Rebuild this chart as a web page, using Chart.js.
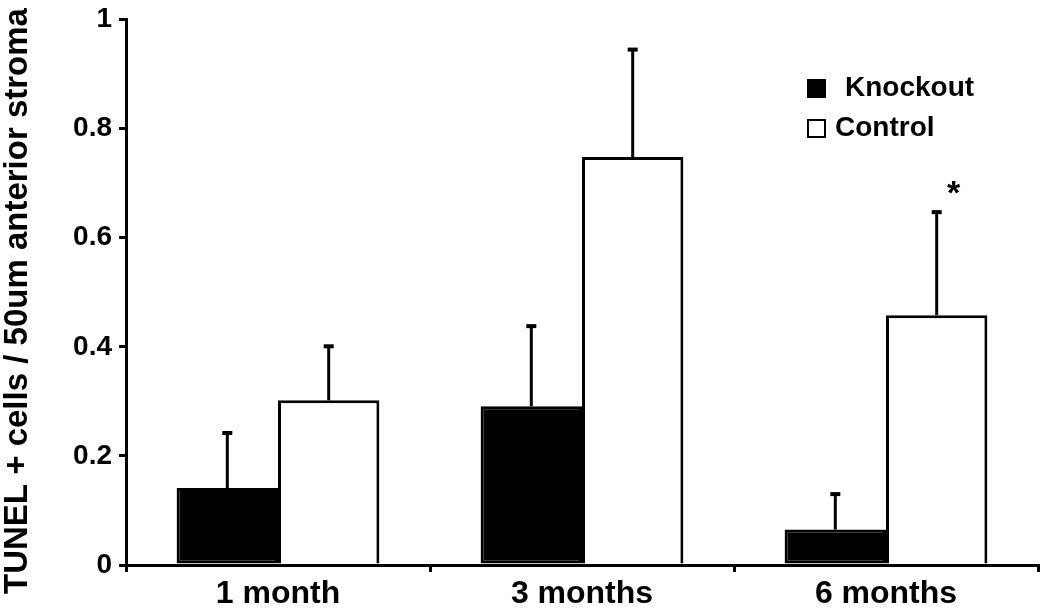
<!DOCTYPE html>
<html>
<head>
<meta charset="utf-8">
<script src="https://cdn.jsdelivr.net/npm/chart.js@4"></script>
<style>
  html, body { margin: 0; padding: 0; background: #fff; }
  #wrap { width: 1050px; height: 614px; }
</style>
</head>
<body>
<div id="wrap"><canvas id="bar"></canvas></div>
<script>
const categories = ["1 month", "3 months", "6 months"];
const knockout = [0.141, 0.291, 0.065];
const knockoutErr = [0.101, 0.147, 0.065];
const control = [0.302, 0.748, 0.458];
const controlErr = [0.099, 0.197, 0.189];
const controlMarks = ["", "", "*"];
const yTicks = [0, 0.2, 0.4, 0.6, 0.8, 1];
const yTitle = "TUNEL + cells / 50um anterior stroma";

const FONT = "'Liberation Sans', Arial, sans-serif";

// error bars (upper only) + significance star
const errorBars = {
  id: "errorBars",
  afterDatasetsDraw(chart) {
    const ctx = chart.ctx;
    const y = chart.scales.y;
    chart.data.datasets.forEach((ds, di) => {
      const meta = chart.getDatasetMeta(di);
      meta.data.forEach((bar, i) => {
        const top = y.getPixelForValue(ds.data[i] + ds.errors[i]);
        ctx.save();
        ctx.strokeStyle = "#000";
        ctx.lineWidth = 3;
        ctx.beginPath();
        ctx.moveTo(bar.x, bar.y);
        ctx.lineTo(bar.x, top);
        ctx.stroke();
        ctx.lineWidth = 4;
        ctx.beginPath();
        ctx.moveTo(bar.x - 5, top);
        ctx.lineTo(bar.x + 5, top);
        ctx.stroke();
        if (ds.marks && ds.marks[i]) {
          ctx.fillStyle = "#000";
          ctx.font = "bold 34px " + FONT;
          ctx.textAlign = "center";
          ctx.textBaseline = "alphabetic";
          ctx.fillText(ds.marks[i], bar.x + 17, top - 8);
        }
        ctx.restore();
      });
    });
  }
};

// legend inside plot area + rotated y title
const boxLegend = {
  id: "boxLegend",
  afterDraw(chart) {
    const ctx = chart.ctx;
    const rows = [
      { x: 808, y: 88, tx: 845 },
      { x: 808, y: 128, tx: 835 }
    ];
    chart.data.datasets.forEach((ds, i) => {
      const r = rows[i];
      ctx.save();
      ctx.fillStyle = ds.backgroundColor;
      ctx.strokeStyle = "#000";
      ctx.lineWidth = 2;
      ctx.fillRect(r.x, r.y - 8, 17, 17);
      ctx.strokeRect(r.x, r.y - 8, 17, 17);
      ctx.fillStyle = "#000";
      ctx.font = "bold 28px " + FONT;
      ctx.textBaseline = "middle";
      ctx.fillText(ds.label, r.tx, r.y);
      ctx.restore();
    });

    ctx.save();
    ctx.translate(18, 301);
    ctx.rotate(-Math.PI / 2);
    ctx.fillStyle = "#000";
    ctx.font = "bold 33px " + FONT;
    ctx.textAlign = "center";
    ctx.textBaseline = "middle";
    ctx.fillText(yTitle, 0, 0);
    ctx.restore();
  }
};

const ctx = document.getElementById("bar").getContext("2d");
const myChart = new Chart(ctx, {
  type: "bar",
  data: {
    labels: categories,
    datasets: [
      {
        label: "Knockout",
        data: knockout,
        errors: knockoutErr,
        backgroundColor: "#000",
        borderColor: "#000",
        borderWidth: 3,
        borderSkipped: false
      },
      {
        label: "Control",
        data: control,
        errors: controlErr,
        marks: controlMarks,
        backgroundColor: "#fff",
        borderColor: "#000",
        borderWidth: 3,
        borderSkipped: "bottom"
      }
    ]
  },
  options: {
    responsive: true,
    maintainAspectRatio: false,
    animation: false,
    layout: { padding: { top: 2, right: 12, bottom: 0, left: 0 } },
    datasets: { bar: { categoryPercentage: 0.667, barPercentage: 1 } },
    plugins: {
      legend: { display: false },
      tooltip: { enabled: false }
    },
    scales: {
      x: {
        grid: {
          offset: true,
          drawOnChartArea: false,
          drawTicks: true,
          tickLength: 7,
          color: "#000",
          lineWidth: 3
        },
        border: { color: "#000", width: 3 },
        ticks: {
          color: "#000",
          padding: 3,
          font: { family: FONT, size: 32, weight: "bold" }
        },
        afterFit(scale) { scale.height = 49; }
      },
      y: {
        min: 0,
        max: 1,
        afterBuildTicks(scale) {
          scale.ticks = yTicks.map(v => ({ value: v }));
        },
        grid: {
          drawOnChartArea: false,
          drawTicks: true,
          tickLength: 7,
          color: "#000",
          lineWidth: 3
        },
        border: { color: "#000", width: 3 },
        ticks: {
          color: "#000",
          padding: 7,
          font: { family: FONT, size: 28, weight: "bold", lineHeight: 0.9 },
          callback: v => String(v)
        },
        afterFit(scale) { scale.width = 126; }
      }
    }
  },
  plugins: [errorBars, boxLegend]
});
</script>
</body>
</html>
